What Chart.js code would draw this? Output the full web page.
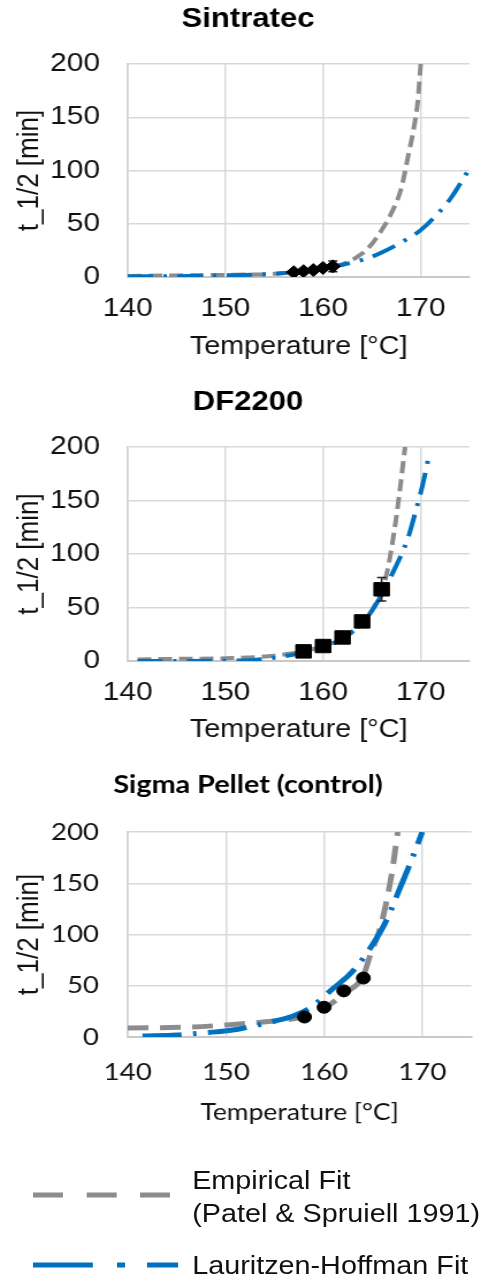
<!DOCTYPE html>
<html>
<head>
<meta charset="utf-8">
<script src="https://cdn.jsdelivr.net/npm/chart.js@4/dist/chart.umd.min.js"></script>
<style>
  body { margin: 0; background: #fff; overflow: hidden; }
  #wrap { position: relative; width: 431px; height: 1277px; transform: scaleX(1.1508); transform-origin: 0 0; }
  .box { position: absolute; left: 0; width: 431px; }
  .legtxt { position: absolute; left: 167px; font: 25px 'Liberation Sans', Arial, sans-serif; line-height: 33px; color: #111; white-space: nowrap; }
</style>
</head>
<body>
<div id="wrap">
  <div class="box" style="top:0;height:370px"><canvas id="c1"></canvas></div>
  <div class="box" style="top:383px;height:370px"><canvas id="c2"></canvas></div>
  <div class="box" style="top:770px;height:360px"><canvas id="c3"></canvas></div>

  <svg style="position:absolute;left:0;top:1170px" width="431" height="110">
    <rect x="28.7" y="22.5" width="26" height="5" fill="#8c8c8c"/>
    <rect x="75.4" y="22.5" width="26" height="5" fill="#8c8c8c"/>
    <rect x="121.7" y="22.5" width="26" height="5" fill="#8c8c8c"/>
    <rect x="28.7" y="92.5" width="52" height="5" fill="#0070c0"/>
    <rect x="101.7" y="92.5" width="7" height="5" fill="#0070c0"/>
    <rect x="127.8" y="92.5" width="27" height="5" fill="#0070c0"/>
  </svg>
  <div class="legtxt" style="top:1163.5px">Empirical Fit<br>(Patel &amp; Spruiell 1991)</div>
  <div class="legtxt" style="top:1248.5px">Lauritzen-Hoffman Fit</div>
</div>

<script>
// Sintratec
const sintTemp = [157, 158, 159, 160, 161];
const sintHalf = [4.5, 5.5, 6.5, 8.5, 10];
const sintErr = [0.5, 0.5, 1, 2, 5];
const sintEmpT = [140, 145, 150, 155, 158, 160, 162, 164, 165, 166, 167, 168, 168.7, 169.3, 169.7, 170];
const sintEmpV = [1, 1.5, 2, 3, 5, 7.5, 12, 22, 31, 44, 60, 83, 113, 140, 165, 200];
const sintLhT = [140, 145, 150, 155, 158, 160, 162, 164, 165, 166, 167.5, 170, 172, 173, 174, 175];
const sintLhV = [0.5, 0.8, 1.5, 3, 5.5, 8, 11.5, 16, 19, 23, 30, 44, 62, 73, 87, 102];

// DF2200
const dfTemp = [158, 160, 162, 164, 166];
const dfHalf = [9, 14, 22, 37, 67];
const dfErr = [1, 1.5, 2, 3, 11];
const dfEmpT = [141, 145, 150, 155, 158, 160, 162, 164, 165, 166, 166.6, 167.3, 167.8, 168.4];
const dfEmpV = [1.5, 2, 2.5, 5, 9, 14, 21, 35, 47, 66, 85, 122, 155, 200];
const dfLhT = [141, 145, 150, 153, 155, 157, 158, 160, 162, 164, 165, 166, 167, 168, 168.7, 169.6, 170.1, 170.9];
const dfLhV = [0, 0, 0.3, 1, 3, 6, 8, 13, 21, 36, 47, 62, 80, 99, 115, 144, 161, 194];

// Sigma Pellet (control)
const sigTemp = [158, 160, 162, 164];
const sigHalf = [19.5, 29, 45, 57.5];
const sigEmpT = [140, 146.6, 150.4, 153.8, 157, 158, 160, 162, 164, 164.7, 165.5, 166, 166.9, 167.5];
const sigEmpV = [8.8, 9.8, 12, 14.6, 18, 20, 28, 42, 60, 80, 100, 117, 160, 200];
const sigLhT = [141.5, 145, 147, 149, 151.5, 154.7, 156.7, 158.5, 161, 162.6, 164, 165.7, 166.5, 167.5, 168.5, 169.2, 170];
const sigLhV = [1, 2, 3.5, 5, 8, 15, 20, 28, 48, 61, 77, 102, 117, 140, 163, 180, 200];

const xTicks = [140, 150, 160, 170];
const yTicks = [0, 50, 100, 150, 200];

const GRAY = '#8c8c8c';
const BLUE = '#0070c0';

Chart.defaults.font.family = "'Liberation Sans', Arial, sans-serif";
Chart.defaults.color = '#111';

const pts = (xs, ys) => xs.map((x, i) => ({x: x, y: ys[i]}));

// error bars drawn under the markers
const errorBars = {
  id: 'errorBars',
  beforeDatasetDraw(chart, args) {
    const ds = chart.data.datasets[args.index];
    if (!ds.errors) return;
    const ctx = chart.ctx;
    const xs = chart.scales.x, ys = chart.scales.y;
    ctx.save();
    ctx.strokeStyle = '#222';
    ctx.lineWidth = 1.5;
    ds.data.forEach((p, i) => {
      const e = ds.errors[i];
      if (!e) return;
      const px = xs.getPixelForValue(p.x);
      const top = ys.getPixelForValue(p.y + e);
      const bot = ys.getPixelForValue(p.y - e);
      ctx.beginPath();
      ctx.moveTo(px, top); ctx.lineTo(px, bot);
      ctx.moveTo(px - 4, top); ctx.lineTo(px + 4, top);
      ctx.moveTo(px - 4, bot); ctx.lineTo(px + 4, bot);
      ctx.stroke();
    });
    ctx.restore();
  }
};

function makeChart(id, o) {
  return new Chart(document.getElementById(id), {
    type: 'scatter',
    data: {
      datasets: [
        {
          label: 'Data',
          data: pts(o.temp, o.half),
          errors: o.err,
          pointStyle: o.marker,
          pointRadius: o.markerSize,
          backgroundColor: '#000',
          borderColor: '#000',
          borderWidth: 1,
          showLine: false,
          yAxisID: 'y',
        },
        {
          label: 'Lauritzen-Hoffman Fit',
          data: pts(o.lhT, o.lhV),
          showLine: true,
          borderColor: BLUE,
          borderWidth: o.lw,
          borderDash: o.blueDash,
          borderCapStyle: 'butt',
          cubicInterpolationMode: 'monotone',
          pointRadius: 0,
          yAxisID: 'y',
        },
        {
          label: 'Empirical Fit',
          data: pts(o.empT, o.empV),
          showLine: true,
          borderColor: GRAY,
          borderWidth: o.lw,
          borderDash: o.grayDash,
          borderCapStyle: 'butt',
          cubicInterpolationMode: 'monotone',
          pointRadius: 0,
          yAxisID: 'y',
        },
      ],
    },
    options: {
      responsive: true,
      maintainAspectRatio: false,
      animation: false,
      events: [],
      layout: { padding: 0 },
      plugins: {
        legend: { display: false },
        tooltip: { enabled: false },
        title: {
          display: true,
          text: o.title,
          color: '#000',
          font: o.titleFont,
          padding: o.titlePad,
        },
      },
      scales: {
        x: {
          type: 'linear',
          min: 140,
          max: 175,
          afterBuildTicks: s => { s.ticks = xTicks.map(v => ({value: v})); },
          grid: { color: '#d9d9d9', lineWidth: 1.5, drawTicks: false },
          border: { color: '#c8c8c8', width: 2 },
          ticks: { font: o.tickFont, padding: o.xTickPad, color: '#111' },
          title: { display: true, text: 'Temperature [°C]', font: o.xTitleFont, padding: {top: 0, bottom: o.xTitlePad}, color: '#111' },
          afterFit: s => { s.height = o.xHeight; },
        },
        y: {
          type: 'linear',
          min: 0,
          max: 200,
          afterBuildTicks: s => { s.ticks = yTicks.map(v => ({value: v})); },
          grid: { color: '#d9d9d9', lineWidth: 1.5, drawTicks: false },
          border: { color: '#d0d0d0', width: 1.5 },
          ticks: { font: o.tickFont, padding: o.yTickPad, color: '#111' },
          title: { display: true, text: 't_1/2 [min]', font: {size: 26, family: "'Liberation Sans', Arial, sans-serif"}, padding: {top: 10.4, bottom: 0}, color: '#111' },
          afterFit: s => { s.width = 111; },
        },
        yR: {
          type: 'linear',
          position: 'right',
          grid: { display: false },
          border: { display: false },
          ticks: { display: false },
          afterFit: s => { s.width = o.rightPad; },
        },
      },
    },
    plugins: [errorBars],
  });
}

const arialTick = {size: 26};
makeChart('c1', {
  title: 'Sintratec',
  temp: sintTemp, half: sintHalf, err: sintErr,
  empT: sintEmpT, empV: sintEmpV, lhT: sintLhT, lhV: sintLhV,
  marker: 'rectRot', markerSize: 6.5,
  lw: 4, grayDash: [12, 6], blueDash: [22, 9, 3, 9],
  titleFont: {size: 27, weight: 'bold'}, titlePad: {top: 3.8, bottom: 27.8},
  tickFont: arialTick, xTickPad: 16.5, yTickPad: 24,
  xTitleFont: {size: 25}, xTitlePad: 8, xHeight: 93, rightPad: 23,
});

makeChart('c2', {
  title: 'DF2200',
  temp: dfTemp, half: dfHalf, err: dfErr,
  empT: dfEmpT, empV: dfEmpV, lhT: dfLhT, lhV: dfLhV,
  marker: 'rect', markerSize: 9.5,
  lw: 4, grayDash: [12, 6], blueDash: [22, 9, 3, 9],
  titleFont: {size: 27, weight: 'bold'}, titlePad: {top: 3.8, bottom: 27.8},
  tickFont: arialTick, xTickPad: 16.5, yTickPad: 24,
  xTitleFont: {size: 25}, xTitlePad: 8, xHeight: 92, rightPad: 23,
});

makeChart('c3', {
  title: 'Sigma Pellet (control)',
  temp: sigTemp, half: sigHalf, err: null,
  empT: sigEmpT, empV: sigEmpV, lhT: sigLhT, lhV: sigLhV,
  marker: 'circle', markerSize: 6,
  lw: 5, grayDash: [18, 10], blueDash: [34, 10, 3, 10],
  titleFont: {size: 25, weight: 'bold', family: 'Lato'}, titlePad: {top: 0, bottom: 32},
  tickFont: {size: 24, family: 'Lato'}, xTickPad: 20.6, yTickPad: 25,
  xTitleFont: {size: 23, family: 'Lato'}, xTitlePad: 3.2, xHeight: 93, rightPad: 21.4,
});
</script>
</body>
</html>
